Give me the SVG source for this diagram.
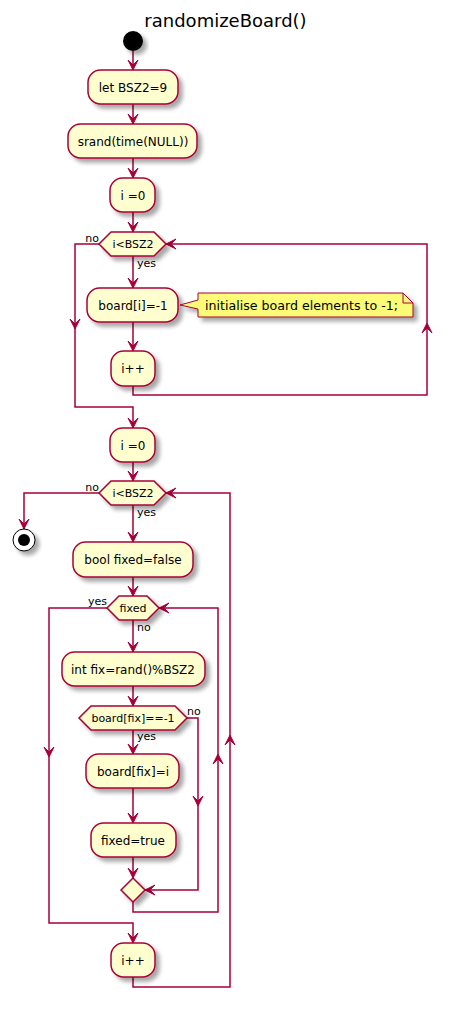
<svg xmlns="http://www.w3.org/2000/svg" width="451" height="1010" viewBox="0 0 451 1010">
<style>
text{font-family:"DejaVu Sans","Liberation Sans",sans-serif;fill:#000}
.box{fill:#FEFECE;stroke:#A80036;stroke-width:1.5;filter:url(#sh)}
.dia{fill:#FEFECE;stroke:#A80036;stroke-width:1.5;filter:url(#sh)}
.bt{font-size:12px;text-anchor:middle}
.dt{font-size:11px;text-anchor:middle}
.lb{font-size:11px}
.ln{fill:none;stroke:#A80036;stroke-width:1.5}
.ah{fill:#A80036;stroke:#A80036;stroke-width:1}
</style>
<defs>
<filter id="sh" x="-20%" y="-20%" width="150%" height="160%">
<feGaussianBlur in="SourceAlpha" stdDeviation="2" result="b"/>
<feOffset in="b" dx="4" dy="4" result="o"/>
<feComponentTransfer in="o" result="s"><feFuncA type="linear" slope="0.35"/></feComponentTransfer>
<feMerge><feMergeNode in="s"/><feMergeNode in="SourceGraphic"/></feMerge>
</filter>
<path id="ad" d="M-5,-10 L0,0 L5,-10 L0,-5 Z"/>
<path id="au" d="M-5,10 L0,0 L5,10 L0,5 Z"/>
<path id="al" d="M10,-5 L0,0 L10,5 L5,0 Z"/>
</defs>

<text x="225.5" y="26.5" font-size="18" text-anchor="middle">randomizeBoard()</text>

<g id="connectors">
<path class="ln" d="M133,51 V70 M133,104 V124 M133,158 V178 M133,212 V232 M133,256 V288 M133,322 V351"/>
<path class="ln" d="M133,386 V395 H427 V244 H166"/>
<path class="ln" d="M99,244 H75 V407 H133 V428"/>
<path class="ln" d="M133,462 V481"/>
<path class="ln" d="M99,493 H24 V529"/>
<path class="ln" d="M133,505 V542 M133,577 V596 M133,620 V652 M133,686 V706 M133,730 V754 M133,788 V823 M133,857 V878"/>
<path class="ln" d="M187,718 H198 V890 H145"/>
<path class="ln" d="M133,902 V912 H218 V608 H159"/>
<path class="ln" d="M107,608 H49 V923 H133 V943"/>
<path class="ln" d="M133,977 V987 H230 V493 H166"/>
<g class="ah">
<use href="#ad" x="133" y="70"/>
<use href="#ad" x="133" y="124"/>
<use href="#ad" x="133" y="178"/>
<use href="#ad" x="133" y="232"/>
<use href="#ad" x="133" y="288"/>
<use href="#ad" x="133" y="351"/>
<use href="#au" x="427" y="323"/>
<use href="#al" x="166" y="244"/>
<use href="#ad" x="75" y="329"/>
<use href="#ad" x="133" y="428"/>
<use href="#ad" x="133" y="481"/>
<use href="#ad" x="24" y="529"/>
<use href="#ad" x="133" y="542"/>
<use href="#ad" x="133" y="596"/>
<use href="#ad" x="133" y="652"/>
<use href="#ad" x="133" y="706"/>
<use href="#ad" x="133" y="754"/>
<use href="#ad" x="133" y="823"/>
<use href="#ad" x="133" y="878"/>
<use href="#ad" x="198" y="806"/>
<use href="#al" x="145" y="890"/>
<use href="#au" x="218" y="754"/>
<use href="#al" x="159" y="608"/>
<use href="#ad" x="49" y="757"/>
<use href="#ad" x="133" y="943"/>
<use href="#au" x="230" y="735"/>
<use href="#al" x="166" y="493"/>
</g>
<text class="lb" x="99" y="241.5" text-anchor="end">no</text>
<text class="lb" x="137" y="267">yes</text>
<text class="lb" x="99" y="491" text-anchor="end">no</text>
<text class="lb" x="137" y="516">yes</text>
<text class="lb" x="107" y="605" text-anchor="end">yes</text>
<text class="lb" x="137" y="631">no</text>
<text class="lb" x="187" y="715">no</text>
<text class="lb" x="137" y="740">yes</text>
</g>

<g id="start"><circle cx="133" cy="41" r="10" fill="#000" filter="url(#sh)"/></g>
<g id="n1"><rect class="box" x="88" y="70" width="90" height="34" rx="12.5"/><text class="bt" x="133" y="92">let BSZ2=9</text></g>
<g id="n2"><rect class="box" x="68" y="124" width="129" height="34" rx="12.5"/><text class="bt" x="133" y="146">srand(time(NULL))</text></g>
<g id="n3"><rect class="box" x="110" y="178" width="45" height="34" rx="12.5"/><text class="bt" x="133" y="200">i =0</text></g>
<g id="d1"><polygon class="dia" points="99,244 111,232 154,232 166,244 154,256 111,256"/><text class="dt" x="133" y="248">i&lt;BSZ2</text></g>
<g id="n4"><rect class="box" x="87" y="288" width="91" height="34" rx="12.5"/><text class="bt" x="133" y="310">board[i]=-1</text></g>
<g id="note1"><polygon points="198,293 403,293 413,303 413,317 198,317 198,309 180,305 198,300" fill="#FBFB77" stroke="#A80036" stroke-width="1" filter="url(#sh)"/><path d="M403,293 V303 H413" fill="none" stroke="#A80036" stroke-width="1"/><text x="205" y="310" font-size="13" textLength="193" lengthAdjust="spacingAndGlyphs">initialise board elements to -1;</text></g>
<g id="n5"><rect class="box" x="111" y="351" width="44" height="35" rx="12.5"/><text class="bt" x="133" y="373">i++</text></g>
<g id="n6"><rect class="box" x="110" y="428" width="45" height="34" rx="12.5"/><text class="bt" x="133" y="450">i =0</text></g>
<g id="d2"><polygon class="dia" points="99,493 111,481 154,481 166,493 154,505 111,505"/><text class="dt" x="133" y="497">i&lt;BSZ2</text></g>
<g id="stop"><circle cx="24" cy="540" r="11" fill="#fff" stroke="#000" stroke-width="1" filter="url(#sh)"/><circle cx="24" cy="540" r="6" fill="#000"/></g>
<g id="n7"><rect class="box" x="73" y="542" width="120" height="35" rx="12.5"/><text class="bt" x="133" y="564">bool fixed=false</text></g>
<g id="d3"><polygon class="dia" points="107,608 119,596 147,596 159,608 147,620 119,620"/><text class="dt" x="133" y="612">fixed</text></g>
<g id="n8"><rect class="box" x="62" y="652" width="143" height="34" rx="12.5"/><text class="bt" x="133" y="674">int fix=rand()%BSZ2</text></g>
<g id="d4"><polygon class="dia" points="79,718 91,706 175,706 187,718 175,730 91,730"/><text class="dt" x="133" y="722">board[fix]==-1</text></g>
<g id="n9"><rect class="box" x="86" y="754" width="93" height="34" rx="12.5"/><text class="bt" x="133" y="776">board[fix]=i</text></g>
<g id="n10"><rect class="box" x="91" y="823" width="85" height="34" rx="12.5"/><text class="bt" x="133" y="845">fixed=true</text></g>
<g id="m1"><polygon class="dia" points="121,890 133,878 145,890 133,902"/></g>
<g id="n11"><rect class="box" x="111" y="943" width="44" height="34" rx="12.5"/><text class="bt" x="133" y="965">i++</text></g>
</svg>
